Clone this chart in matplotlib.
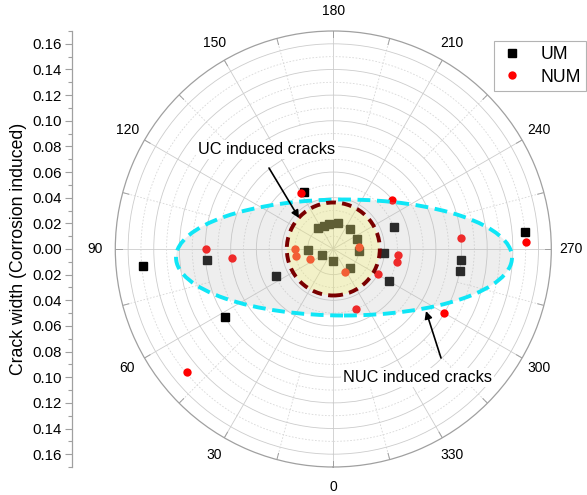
import numpy as np
import matplotlib
matplotlib.use("Agg")
import matplotlib.pyplot as plt
from matplotlib.patches import Ellipse, Circle
from matplotlib.lines import Line2D
from matplotlib.ticker import MultipleLocator

plt.rcParams['font.family'] = ['Liberation Sans', 'DejaVu Sans']

# ---- data (angle in degrees, crack width in mm) ----
um_theta = [85, 85, 58, 65, 153, 250, 265, 275, 280, 300, 274,
            144, 158, 170, 190, 220, 247, 274, 88, 63, 1, 318]
um_r = [0.149, 0.099, 0.0995, 0.049, 0.050, 0.050, 0.150, 0.100, 0.100, 0.050, 0.040,
        0.020, 0.019, 0.020, 0.0205, 0.020, 0.020, 0.020, 0.0195, 0.0096, 0.0097, 0.020]

num_theta = [50, 90, 85, 150, 230, 265, 268, 275, 282, 299, 339, 300,
             90, 80, 66, 265, 334]
num_r = [0.149, 0.099, 0.079, 0.050, 0.060, 0.100, 0.150, 0.0505, 0.0505, 0.040, 0.050, 0.100,
         0.030, 0.0295, 0.0196, 0.020, 0.020]

angle_ticks = list(range(0, 360, 30))
width_ticks = [-0.16, -0.14, -0.12, -0.10, -0.08, -0.06, -0.04, -0.02, 0.0,
               0.02, 0.04, 0.06, 0.08, 0.10, 0.12, 0.14, 0.16]
rmax = 0.17

W, H = 587, 495
fig = plt.figure(figsize=(W / 100, H / 100), dpi=100)

cx, cy, R = 333.3, 249.0, 218.0
ax = fig.add_axes([(cx - R) / W, (H - cy - R) / H, 2 * R / W, 2 * R / H], projection='polar')
ax.set_theta_zero_location('S')
ax.set_theta_direction(-1)
ax.set_ylim(0, rmax)
ax.set_axisbelow('line')

# grid
ax.set_xticks(np.deg2rad(angle_ticks))
ax.set_xticklabels([])
ax.set_yticks(np.arange(0.02, 0.161, 0.02))
ax.set_yticks(np.arange(0.01, 0.161, 0.02), minor=True)
ax.set_yticklabels([])
ax.tick_params(axis='y', which='both', length=0)
ax.tick_params(axis='x', which='both', length=0)
ax.xaxis.grid(True, color='#cccccc', lw=0.6, ls='-')
ax.yaxis.grid(True, which='major', color='#cccccc', lw=0.6, ls='-')
ax.yaxis.grid(True, which='minor', color='#d8d8d8', lw=0.6, ls=(0, (2, 2)))
ax.spines['polar'].set_color('#a0a0a0')
ax.spines['polar'].set_linewidth(0.9)

# minor spokes
for d in range(15, 360, 30):
    t = np.deg2rad(d)
    ax.plot([t, t], [0.10, rmax], color='#d6d6d6', lw=0.6, ls=(0, (2, 2)), zorder=1.5)
for d in range(0, 360, 15):
    t = np.deg2rad(d)
    ax.plot([t, t], [rmax - 0.005, rmax], color='#a0a0a0', lw=0.7, zorder=1.6)

# angle labels
for d in angle_ticks:
    ax.text(np.deg2rad(d), rmax * 238 / 218, str(d), ha='center', va='center',
            fontsize=10, color='black')

px = 1.0 / (2 * R)
ecx, ecy = 0.5 + (344 - cx) * px, 0.5 - (257.5 - cy) * px
ew, eh = 336 * px, 116 * px
cr = 46.5 * px

# markers
ax.plot(np.deg2rad(um_theta), um_r, ls='none', marker='s', ms=5.6,
        color='black', zorder=3, clip_on=False)
ax.plot(np.deg2rad(num_theta), num_r, ls='none', marker='o', ms=6.0,
        color='#ff0000', markeredgewidth=0, zorder=3, clip_on=False)

# translucent fills on top of markers
ax.add_patch(Ellipse((ecx, ecy), ew, eh, transform=ax.transAxes,
                     facecolor=(0.72, 0.72, 0.72), alpha=0.23, edgecolor='none', zorder=4))
ax.add_patch(Circle((0.5, 0.5), cr, transform=ax.transAxes,
                    facecolor=(1.0, 0.98, 0.35), alpha=0.25, edgecolor='none', zorder=4.1))

# region edges
ax.add_patch(Ellipse((ecx, ecy), ew, eh, transform=ax.transAxes,
                     facecolor='none', edgecolor='#10e6f6', lw=2.8,
                     ls=(0, (3.3, 1.7)), zorder=4.5))
ax.add_patch(Circle((0.5, 0.5), cr, transform=ax.transAxes,
                    facecolor='none', edgecolor='#7a0000', lw=2.8,
                    ls=(0, (2.5, 1.6)), zorder=4.5))

# annotations
def fp(x, y):
    return (x / W, 1 - y / H)

ax.annotate('', xy=fp(299, 218), xycoords='figure fraction',
            xytext=fp(269, 168), textcoords='figure fraction',
            arrowprops=dict(arrowstyle='-|>', color='black', lw=1.2,
                            mutation_scale=11, shrinkA=0, shrinkB=0), zorder=6)
ax.annotate('', xy=fp(426, 311), xycoords='figure fraction',
            xytext=fp(441, 358), textcoords='figure fraction',
            arrowprops=dict(arrowstyle='-|>', color='black', lw=1.2,
                            mutation_scale=11, shrinkA=0, shrinkB=0), zorder=6)
fig.text(*fp(267, 149.3), 'UC induced cracks', ha='center', va='center',
         fontsize=11.7, color='black',
         bbox=dict(facecolor='white', edgecolor='none', pad=1.5), zorder=7)
fig.text(*fp(417.5, 377.3), 'NUC induced cracks', ha='center', va='center',
         fontsize=11.7, color='black',
         bbox=dict(facecolor='white', edgecolor='none', pad=1.5), zorder=7)

# legend
handles = [Line2D([], [], ls='none', marker='s', ms=5.6, color='black'),
           Line2D([], [], ls='none', marker='o', ms=6.0, color='#ff0000', markeredgewidth=0)]
leg = fig.legend(handles, ['UM', 'NUM'], loc='upper right',
                 bbox_to_anchor=fp(586, 41), borderaxespad=0,
                 fontsize=12.7, frameon=True, fancybox=False,
                 edgecolor='#a0a0a0', handlelength=1.4, handletextpad=0.9,
                 borderpad=0.3, labelspacing=0.3)
leg.get_frame().set_linewidth(0.8)

# left linear axis
axL = fig.add_axes([72.3 / W, (H - cy - R) / H, 0.0001, 2 * R / H])
axL.set_ylim(-rmax, rmax)
axL.set_yticks(width_ticks)
axL.set_yticklabels([f"{abs(v):.2f}" for v in width_ticks])
axL.yaxis.set_minor_locator(MultipleLocator(0.01))
axL.set_xticks([])
for s in ['top', 'right', 'bottom']:
    axL.spines[s].set_visible(False)
axL.spines['left'].set_color('#a0a0a0')
axL.spines['left'].set_linewidth(0.9)
axL.patch.set_alpha(0)
axL.tick_params(axis='y', which='major', direction='out', length=4.8, width=0.8,
                color='#a0a0a0', labelsize=10.8, pad=2.8)
axL.tick_params(axis='y', which='minor', direction='out', length=2.9, width=0.8,
                color='#a0a0a0')

fig.text(18.5 / W, 1 - 248.5 / H, 'Crack width (Corrosion induced)', rotation=90,
         ha='center', va='center', fontsize=12.7, color='black')

fig.savefig('out.png', dpi=100)
